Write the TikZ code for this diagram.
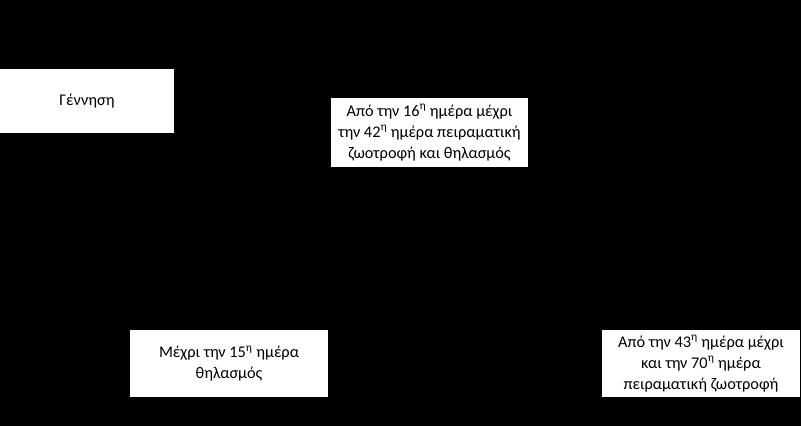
\documentclass[tikz,border=0pt]{standalone}
\usepackage{fontspec}
\setmainfont{Carlito}
\begin{document}
\begin{tikzpicture}[x=1pt,y=-1pt,
  wbox/.style={fill=white, draw=none, inner sep=0pt, align=center, text=black,
    font=\fontsize{16.3}{21}\selectfont}]
\fill[black] (0,0) rectangle (801,426);
\useasboundingbox (0,0) rectangle (801,426);
\node[wbox, minimum width=174pt, minimum height=64pt] (birth) at (87,101) {Γέννηση};
\node[wbox, minimum width=197pt, minimum height=69pt] (mid) at (429.5,132.5)
  {Από την 16\textsuperscript{η} ημέρα μέχρι\\την 42\textsuperscript{η} ημέρα πειραματική\\ζωοτροφή και θηλασμός};
\node[wbox, minimum width=198pt, minimum height=67pt] (early) at (229,363.5)
  {Μέχρι την 15\textsuperscript{η} ημέρα\\θηλασμός};
\node[wbox, minimum width=198pt, minimum height=67pt] (late) at (701,363.5)
  {Από την 43\textsuperscript{η} ημέρα μέχρι\\και την 70\textsuperscript{η} ημέρα\\πειραματική ζωοτροφή};
\end{tikzpicture}
\end{document}
